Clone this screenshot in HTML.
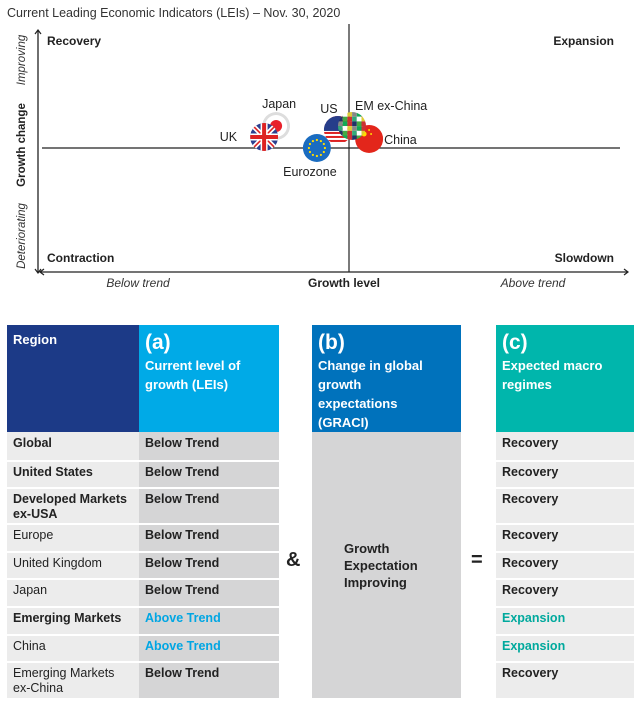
<!DOCTYPE html>
<html><head><meta charset="utf-8"><style>
body{margin:0;width:644px;height:702px;background:#fff;font-family:"Liberation Sans",sans-serif;overflow:hidden;position:relative}
svg{position:absolute;left:0;top:0}
.c{position:absolute;box-sizing:border-box;font-size:12px;font-weight:bold;color:#222;padding:4px 6px;line-height:15px}
.h{color:#fff;font-size:13px;line-height:19px;padding-top:5px}
.h b{font-size:21px;display:block;line-height:26px;margin-bottom:0}
</style></head><body>
<svg width="644" height="310">
<text x="7" y="17" font-size="12.5" fill="#333">Current Leading Economic Indicators (LEIs) – Nov. 30, 2020</text>
<line x1="38" y1="30" x2="38" y2="273" stroke="#222" stroke-width="1.3"/>
<path d="M35,34 L38,30 L41,34 M35,269 L38,273 L41,269" stroke="#222" fill="none" stroke-width="1.2"/>
<line x1="40" y1="272" x2="628" y2="272" stroke="#222" stroke-width="1.3"/>
<path d="M44,269 L40,272 L44,275 M624,269 L628,272 L624,275" stroke="#222" fill="none" stroke-width="1.2"/>
<line x1="42" y1="148" x2="620" y2="148" stroke="#222" stroke-width="1.2"/>
<line x1="349" y1="24" x2="349" y2="272" stroke="#222" stroke-width="1.2"/>
<g font-size="12" font-weight="bold" fill="#222">
<text x="47" y="45">Recovery</text><text x="614" y="45" text-anchor="end">Expansion</text>
<text x="47" y="262">Contraction</text><text x="614" y="262" text-anchor="end">Slowdown</text>
<text x="344" y="287" text-anchor="middle">Growth level</text>
<text transform="translate(25,145) rotate(-90)" text-anchor="middle" font-size="11.5">Growth change</text>
</g>
<g font-size="12" font-style="italic" fill="#333">
<text x="138" y="287" text-anchor="middle">Below trend</text>
<text x="533" y="287" text-anchor="middle">Above trend</text>
<text transform="translate(25,60) rotate(-90)" text-anchor="middle" font-size="11.5">Improving</text>
<text transform="translate(25,236) rotate(-90)" text-anchor="middle" font-size="11.5">Deteriorating</text>
</g>
<g id="pts"></g>
</svg>

<div class="c h" style="left:7px;top:325px;width:132px;height:107px;background:#1c3a87;padding-top:5px">Region</div>
<div class="c h" style="left:139px;top:325px;width:140px;height:107px;background:#00aae7"><b>(a)</b>Current level of growth (LEIs)</div>
<div class="c h" style="left:312px;top:325px;width:149px;height:107px;background:#0072bc;padding-right:20px"><b>(b)</b>Change in global growth expectations (GRACI)</div>
<div class="c h" style="left:496px;top:325px;width:138px;height:107px;background:#00b6ac;padding-right:20px"><b>(c)</b>Expected macro regimes</div>
<div class="c" style="left:312px;top:432px;width:149px;height:266px;background:#d5d5d6;padding:108px 0 0 32px;font-size:13px;line-height:17px">Growth<br>Expectation<br>Improving</div>
<div class="c" style="left:286px;top:553px;font-size:20px;padding:0">&amp;</div>
<div class="c" style="left:471px;top:553px;font-size:20px;padding:0">=</div>
<div id="rows"></div>
<script>
const names=["UK","Japan","US","EM ex-China","China","Eurozone"];
const levelX=[-28.3,-24.3,-3.7,1,6.7,-10.7];
const changeY=[10,20,16.4,20,8.2,0];
const sx=v=>349+v*3, sy=v=>148-v*1.1;
const labels={UK:[-27,4,"end"],Japan:[3,-18,"middle"],US:[-9,-17,"middle"],"EM ex-China":[3,-16,"start"],China:[15,5,"start"],Eurozone:[-7,28,"middle"]};
const g=document.getElementById('pts');
function flag(n,cx,cy,r){
 let s='';const id='cl'+n.replace(/\W/g,'');
 s+=`<clipPath id="${id}"><circle cx="${cx}" cy="${cy}" r="${r}"/></clipPath><g clip-path="url(#${id})">`;
 if(n=="UK")s+=`<rect x="${cx-r}" y="${cy-r}" width="${2*r}" height="${2*r}" fill="#2b3f8f"/><path d="M${cx-r},${cy-r}L${cx+r},${cy+r}M${cx+r},${cy-r}L${cx-r},${cy+r}" stroke="#fff" stroke-width="5"/><path d="M${cx-r},${cy-r}L${cx+r},${cy+r}M${cx+r},${cy-r}L${cx-r},${cy+r}" stroke="#d22" stroke-width="1.6"/><path d="M${cx},${cy-r}V${cy+r}M${cx-r},${cy}H${cx+r}" stroke="#fff" stroke-width="7"/><path d="M${cx},${cy-r}V${cy+r}M${cx-r},${cy}H${cx+r}" stroke="#d22" stroke-width="4"/>`;
 else if(n=="Japan")s+=`<circle cx="${cx}" cy="${cy}" r="${r}" fill="#ddd"/><circle cx="${cx}" cy="${cy}" r="${r-3}" fill="#fff"/><circle cx="${cx}" cy="${cy}" r="6" fill="#e8202a"/>`;
 else if(n=="US"){s+=`<rect x="${cx-r}" y="${cy-r}" width="${2*r}" height="${2*r}" fill="#fff"/>`;for(let i=0;i<8;i++)s+=`<rect x="${cx-r}" y="${cy-r+i*4}" width="${2*r}" height="2" fill="#d22"/>`;s+=`<rect x="${cx-r}" y="${cy-r}" width="${r+3}" height="${r+1}" fill="#263d8a"/>`;}
 else if(n=="Eurozone"){s+=`<rect x="${cx-r}" y="${cy-r}" width="${2*r}" height="${2*r}" fill="#1a6cc0"/>`;for(let i=0;i<12;i++){const a=i*Math.PI/6;s+=`<circle cx="${cx+8*Math.cos(a)}" cy="${cy+8*Math.sin(a)}" r="1.1" fill="#fd0"/>`;}}
 else if(n=="China")s+=`<rect x="${cx-r}" y="${cy-r}" width="${2*r}" height="${2*r}" fill="#e3261b"/><circle cx="${cx-5}" cy="${cy-5}" r="2.5" fill="#fd0"/><circle cx="${cx}" cy="${cy-9}" r="1" fill="#fd0"/><circle cx="${cx+2}" cy="${cy-5}" r="1" fill="#fd0"/>`;
 else {const cols=["#3a7","#c33","#fff","#236","#dc3","#4a4","#888","#c33","#1a5"];for(let i=0;i<6;i++)for(let j=0;j<6;j++)s+=`<rect x="${cx-r+j*4.7}" y="${cy-r+i*4.7}" width="4.7" height="4.7" fill="${cols[(i*3+j*2)%9]}"/>`;}
 return s+'</g>';
}
let html='';
const order=[1,0,5,2,4,3];
order.forEach(i=>{const n=names[i],cx=sx(levelX[i]),cy=sy(changeY[i]);html+=flag(n,cx,cy,14);});
names.forEach((n,i)=>{const cx=sx(levelX[i]),cy=sy(changeY[i]),l=labels[n];html+=`<text x="${cx+l[0]}" y="${cy+l[1]}" font-size="12.5" fill="#222" text-anchor="${l[2]}">${n}</text>`;});
g.innerHTML=html;
[...g.querySelectorAll('g[clip-path]')].forEach(e=>{

});
[...g.querySelectorAll('text')].forEach(e=>{

});

const regions=["Global","United States","Developed Markets<br>ex-USA","Europe","United Kingdom","Japan","Emerging Markets","China","Emerging Markets<br>ex-China"];
const boldR=[1,1,1,0,0,0,1,0,0];
const levels=["Below Trend","Below Trend","Below Trend","Below Trend","Below Trend","Below Trend","Above Trend","Above Trend","Below Trend"];
const regimes=["Recovery","Recovery","Recovery","Recovery","Recovery","Recovery","Expansion","Expansion","Recovery"];
const bounds=[432,460,487,523,551,578,606,634,661,698];
const R=document.getElementById('rows');
regions.forEach((r,i)=>{
 const t=bounds[i]+(i?2:0),h=bounds[i+1]-t;
 const mk=(x,w,bg,txt,col,fw)=>{const d=document.createElement('div');d.className='c';d.style.cssText=`left:${x}px;top:${t}px;width:${w}px;height:${h}px;background:${bg};color:${col};font-weight:${fw};padding:${i?3:4}px 6px;font-size:12.5px`;d.innerHTML=txt;R.appendChild(d);return d;};
 const a=mk(7,132,'#ececec',r,'#222',boldR[i]?'bold':'normal');
 
 
 const above=levels[i]=="Above Trend";
 const b=mk(139,140,'#d5d5d6',levels[i],above?'#00a6e3':'#222','bold');
 
 
 const c=mk(496,138,'#ececec',regimes[i],regimes[i]=="Expansion"?'#00a99d':'#222','bold');
 
 
});
</script>
</body></html>
